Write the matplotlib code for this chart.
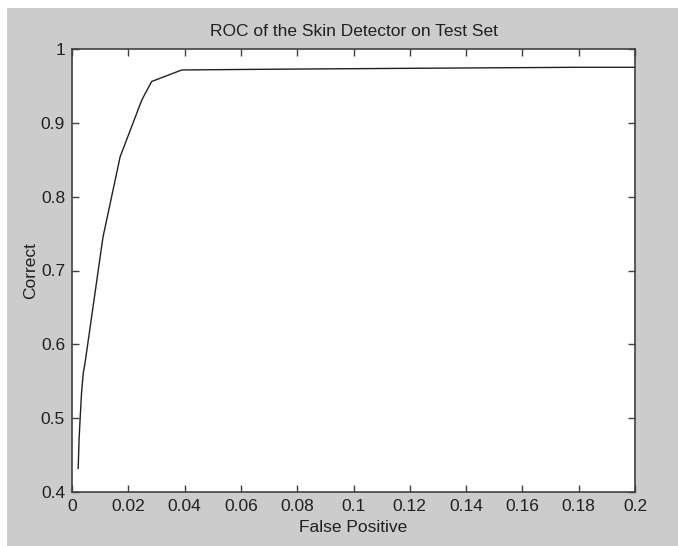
import matplotlib.pyplot as plt
from matplotlib.patches import Rectangle

plt.rcParams['font.family'] = ['Liberation Sans', 'DejaVu Sans']

# ROC points
false_pos = [0.0022, 0.0025, 0.0028, 0.0034, 0.0040, 0.0046, 0.0058, 0.0110,
             0.0171, 0.0248, 0.0283, 0.0390, 0.0674, 0.1226, 0.1780, 0.2000]
correct = [0.432, 0.470, 0.493, 0.535, 0.561, 0.574, 0.606, 0.745,
           0.854, 0.931, 0.956, 0.9716, 0.9725, 0.9739, 0.9752, 0.9752]

xticks = [0, 0.02, 0.04, 0.06, 0.08, 0.1, 0.12, 0.14, 0.16, 0.18, 0.2]
xtick_labels = ['0', '0.02', '0.04', '0.06', '0.08', '0.1', '0.12', '0.14', '0.16', '0.18', '0.2']
yticks = [0.4, 0.5, 0.6, 0.7, 0.8, 0.9, 1.0]
ytick_labels = ['0.4', '0.5', '0.6', '0.7', '0.8', '0.9', '1']

fig = plt.figure(figsize=(6.78, 5.46), dpi=100)
fig.patch.set_facecolor('#cccccc')
# thin white strips on the left and top edges
fig.patches.append(Rectangle((0, 0), 7 / 678, 1, transform=fig.transFigure,
                             facecolor='white', edgecolor='none'))
fig.patches.append(Rectangle((0, 1 - 8 / 546), 1, 8 / 546, transform=fig.transFigure,
                             facecolor='white', edgecolor='none'))

ax = fig.add_axes([72 / 678, 54 / 546, 563 / 678, 443 / 546])
ax.set_facecolor('white')
ax.plot(false_pos, correct, color='#202020', lw=1.0)

ax.set_xlim(0, 0.2)
ax.set_ylim(0.4, 1.0)
ax.set_xticks(xticks)
ax.set_xticklabels(xtick_labels)
ax.set_yticks(yticks)
ax.set_yticklabels(ytick_labels)
ax.tick_params(direction='in', length=5, width=1, color='#404040',
               top=True, right=True, labelsize=12.5, pad=5, labelcolor='#202020')
for s in ax.spines.values():
    s.set_color('#404040')
    s.set_linewidth(1.2)

ax.set_title('ROC of the Skin Detector on Test Set', fontsize=12.5, color='#202020', pad=9)
ax.set_xlabel('False Positive', fontsize=12.5, color='#202020', labelpad=4)
ax.set_ylabel('Correct', fontsize=12.5, color='#202020', labelpad=2)

fig.savefig('out.png', dpi=100, facecolor=fig.get_facecolor())
